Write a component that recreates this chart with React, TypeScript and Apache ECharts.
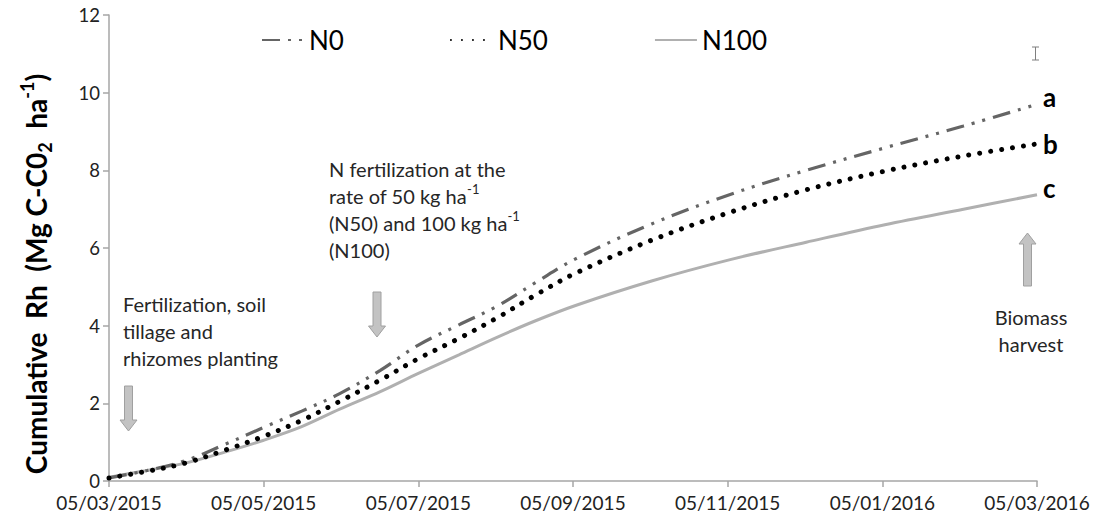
import React, { useEffect, useRef } from "react";
import * as echarts from "echarts";

// Days elapsed since 05/03/2015
const days = [0, 15, 30, 46, 61, 76, 91, 107, 122, 138, 153, 168, 184, 214, 245, 275, 306, 337, 366];

// Cumulative heterotrophic respiration (Mg C-CO2 ha-1)
const n0 = [0.08, 0.27, 0.52, 0.95, 1.38, 1.8, 2.25, 2.85, 3.5, 4.02, 4.5, 5.1, 5.72, 6.62, 7.38, 8.0, 8.58, 9.14, 9.7];
const n50 = [0.08, 0.25, 0.46, 0.8, 1.15, 1.56, 2.05, 2.6, 3.15, 3.67, 4.2, 4.78, 5.35, 6.2, 6.92, 7.5, 7.98, 8.37, 8.68];
const n100 = [0.1, 0.27, 0.46, 0.75, 1.05, 1.4, 1.85, 2.3, 2.77, 3.25, 3.7, 4.12, 4.52, 5.15, 5.7, 6.15, 6.6, 7.0, 7.37];

const tickLabels = [
  "05/03/2015",
  "05/05/2015",
  "05/07/2015",
  "05/09/2015",
  "05/11/2015",
  "05/01/2016",
  "05/03/2016",
];

const FONT = "Lato";
const AXIS_GREY = "#a6a6a6";
const ARROW_FILL = "#c3c3c3";
const ARROW_STROKE = "#a0a0a0";

const pairs = (vals: number[]) => days.map((d, i) => [d, vals[i]]);

// Block arrow outline; dir = 1 points down, -1 points up
function arrow(cx: number, tailY: number, headY: number, dir: number) {
  const shaftHalf = 4;
  const headHalf = 8.5;
  const headLen = 11 * dir;
  const neckY = headY - headLen;
  return {
    type: "polygon",
    shape: {
      points: [
        [cx - shaftHalf, tailY],
        [cx + shaftHalf, tailY],
        [cx + shaftHalf, neckY],
        [cx + headHalf, neckY],
        [cx, headY],
        [cx - headHalf, neckY],
        [cx - shaftHalf, neckY],
      ],
    },
    style: { fill: ARROW_FILL, stroke: ARROW_STROKE, lineWidth: 1 },
    silent: true,
  };
}

const noteStyle = {
  fontFamily: FONT,
  fontSize: 20,
  fill: "#262626",
  lineHeight: 27,
  rich: {
    sup: { fontFamily: FONT, fontSize: 13, lineHeight: 12, verticalAlign: "top", fill: "#262626" },
  },
};

const letterStyle = (text: string) => ({
  text,
  fontFamily: FONT,
  fontWeight: "bold",
  fontSize: 26,
  fill: "#000",
  verticalAlign: "middle",
});

export default function App() {
  const ref = useRef<HTMLDivElement>(null);

  useEffect(() => {
    document.body.style.margin = "0";
    if (!ref.current) return;
    const chart = echarts.init(ref.current, null, { renderer: "svg" });

    chart.setOption({
      animation: false,
      backgroundColor: "#ffffff",
      grid: { left: 109, right: 57, top: 15, bottom: 43, containLabel: false },
      legend: {
        top: 22,
        left: 256,
        itemWidth: 42,
        itemHeight: 14,
        itemGap: 106,
        itemStyle: { opacity: 0 },
        textStyle: { fontFamily: FONT, fontSize: 26, color: "#000" },
        data: ["N0", "N50", "N100"],
      },
      xAxis: {
        type: "value",
        min: 0,
        max: 366,
        interval: 61,
        splitLine: { show: false },
        axisLine: { show: true, lineStyle: { color: AXIS_GREY, width: 1.5 } },
        axisTick: { show: true, length: 6, lineStyle: { color: AXIS_GREY, width: 1.5 } },
        axisLabel: {
          margin: 13,
          fontFamily: FONT,
          fontSize: 19,
          lineHeight: 17,
          color: "#222",
          formatter: (v: number) => tickLabels[Math.round(v / 61)] ?? "",
        },
      },
      yAxis: {
        type: "value",
        min: 0,
        max: 12,
        interval: 2,
        splitLine: { show: false },
        axisLine: { show: true, lineStyle: { color: AXIS_GREY, width: 1.5 } },
        axisTick: { show: true, length: 6, lineStyle: { color: AXIS_GREY, width: 1.5 } },
        axisLabel: { margin: 9, fontFamily: FONT, fontSize: 18.5, lineHeight: 14, color: "#222" },
      },
      series: [
        {
          name: "N0",
          type: "line",
          data: pairs(n0),
          smooth: 0.35,
          symbol: "none",
          lineStyle: { color: "#656565", width: 3.2, type: [18, 8, 3, 8, 3, 8] },
          itemStyle: { color: "#656565" },
          z: 3,
        },
        {
          name: "N50",
          type: "line",
          data: pairs(n50),
          smooth: 0.35,
          symbol: "none",
          lineStyle: { color: "#000", width: 5, type: [0.01, 11], cap: "round" },
          itemStyle: { color: "#000" },
          z: 4,
        },
        {
          name: "N100",
          type: "line",
          data: pairs(n100),
          smooth: 0.35,
          symbol: "none",
          lineStyle: { color: "#b0b0b0", width: 3 },
          itemStyle: { color: "#b0b0b0" },
          z: 2,
        },
      ],
      graphic: [
        // y-axis title
        {
          type: "text",
          x: 36,
          y: 274,
          rotation: Math.PI / 2,
          silent: true,
          style: {
            text: "Cumulative  Rh  (Mg C-C0{sub|2}  ha{sup|-1})",
            fontFamily: FONT,
            fontWeight: "bold",
            fontSize: 28,
            lineHeight: 36,
            fill: "#000",
            align: "center",
            verticalAlign: "middle",
            rich: {
              sub: { fontFamily: FONT, fontWeight: "bold", fontSize: 18, lineHeight: 16, verticalAlign: "bottom", fill: "#000" },
              sup: { fontFamily: FONT, fontWeight: "bold", fontSize: 18, lineHeight: 16, verticalAlign: "top", fill: "#000" },
            },
          },
        },
        // planting note + arrow
        {
          type: "text",
          x: 123,
          y: 290,
          silent: true,
          style: { ...noteStyle, text: "Fertilization, soil\ntillage and\nrhizomes planting" },
        },
        arrow(128.5, 386, 431, 1),
        // N fertilization note + arrow
        {
          type: "text",
          x: 329,
          y: 155,
          silent: true,
          style: {
            ...noteStyle,
            text: "N fertilization at the\nrate of 50 kg ha{sup|-1}\n(N50) and 100 kg ha{sup|-1}\n(N100)",
          },
        },
        arrow(377, 292, 337, 1),
        // harvest note + arrow
        arrow(1027.5, 286, 233, -1),
        {
          type: "text",
          x: 1031,
          y: 303,
          silent: true,
          style: { ...noteStyle, align: "center", text: "Biomass\nharvest" },
        },
        // significance letters
        { type: "text", x: 1043, y: 97, silent: true, style: letterStyle("a") },
        { type: "text", x: 1043, y: 144, silent: true, style: letterStyle("b") },
        { type: "text", x: 1043, y: 188, silent: true, style: letterStyle("c") },
        // error bar
        {
          type: "group",
          silent: true,
          children: [
            { type: "line", shape: { x1: 1035.5, y1: 47, x2: 1035.5, y2: 60 }, style: { stroke: "#7f7f7f", lineWidth: 1 } },
            { type: "line", shape: { x1: 1032, y1: 47, x2: 1039, y2: 47 }, style: { stroke: "#7f7f7f", lineWidth: 1 } },
            { type: "line", shape: { x1: 1032, y1: 60, x2: 1039, y2: 60 }, style: { stroke: "#7f7f7f", lineWidth: 1 } },
          ],
        },
      ],
    });

    return () => chart.dispose();
  }, []);

  return <div ref={ref} style={{ width: 1094, height: 524 }} />;
}
